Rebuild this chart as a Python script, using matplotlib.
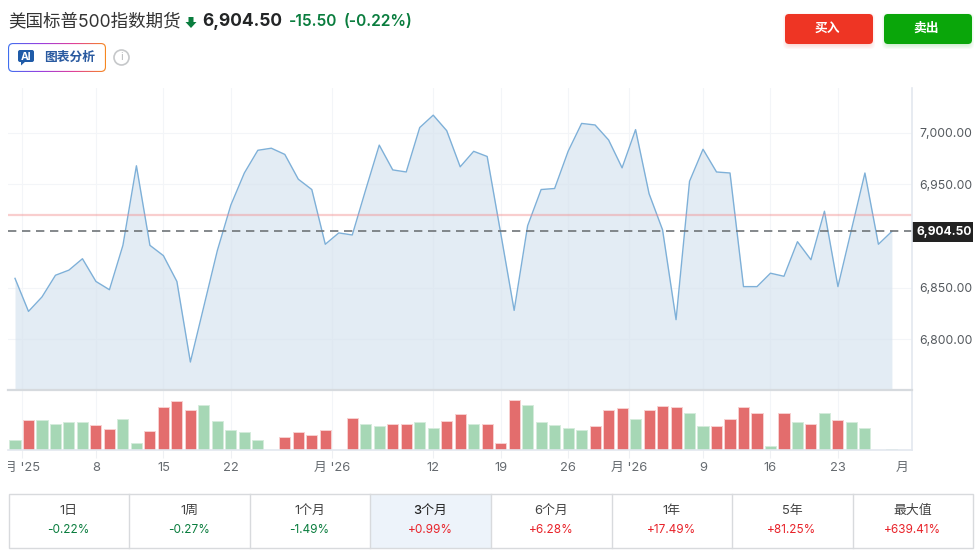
# -*- coding: utf-8 -*-
import matplotlib
matplotlib.use('Agg')
import matplotlib.pyplot as plt
import numpy as np
from matplotlib.colors import LinearSegmentedColormap
from matplotlib.patches import Circle, FancyBboxPatch, Polygon, Rectangle
from matplotlib.transforms import Bbox

plt.rcParams['font.family'] = ['Inter', 'Noto Sans CJK SC', 'DejaVu Sans']

# price per session
prices = [6859, 6827, 6841, 6862, 6867, 6878, 6856, 6848, 6891, 6968, 6891,
          6881, 6856, 6778, 6832, 6886, 6930, 6961, 6983, 6985, 6979, 6955,
          6945, 6892, 6903, 6901, 6945, 6988, 6964, 6962, 7005, 7017, 7002,
          6967, 6982, 6977, 6903, 6828, 6910, 6945, 6946, 6982, 7009, 7007.5,
          6993, 6966, 7003, 6941, 6906, 6819, 6953, 6984, 6962, 6961, 6851,
          6851, 6864, 6861, 6894.5, 6877, 6924, 6851, 6906, 6961, 6892, 6904.5]
volumes = [29, 89, 89, 79, 83, 83, 76, 63, 92, 20, 56, 129, 146, 119, 135, 86,
           60, 53, 29, 0, 39, 53, 46, 60, 0, 96, 79, 72, 79, 79, 83, 66, 86,
           109, 79, 79, 20, 149, 135, 83, 76, 66, 60, 72, 119, 126, 92, 119,
           132, 129, 112, 72, 72, 92, 129, 112, 13, 112, 83, 79, 112, 89, 83,
           66, 0, 3]
vol_up = list('GRGGGGRRGGRRRRGGGGG' 'GRRRRG' 'RGGRRGGRRGRRRGGGGGRRRGRRRGGRRRRGRGRGRGGGG')
date_pos = [0.52, 6, 11, 16, 23.5, 31, 36, 41, 45.5, 51, 56, 61, 65.75]
date_labels = ["月 '25", '8', '15', '22', "月 '26", '12', '19', '26', "月 '26",
               '9', '16', '23', '月']
price_ticks = [6800, 6850, 6950, 7000]
last_price = 6904.5
prev_close = 6920
periods = ['1日', '1周', '1个月', '3个月', '6个月', '1年', '5年', '最大值']
changes = ['-0.22%', '-0.27%', '-1.49%', '+0.99%', '+6.28%', '+17.49%',
           '+81.25%', '+639.41%']
period_edges = [8.5, 128.5, 249.5, 369.5, 490.5, 611.5, 731.5, 852.5, 973]

W, H = 980, 552
UP_TXT = '#0a7d3e'
DOWN_TXT = '#e8232a'


def px_axes(x0, y0, x1, y1):
    return fig.add_axes([x0 / W, 1 - y1 / H, (x1 - x0) / W, (y1 - y0) / H])


fig = plt.figure(figsize=(W / 100, H / 100), dpi=100, facecolor='white')
x = np.arange(len(prices))
xlim = (-0.519, 66.49)

# price pane
ax = px_axes(8, 88, 912, 389.5)
ax.set_facecolor('none')
ax.set_xlim(*xlim)
ax.set_ylim(6751.4, 7043.3)
ax.fill_between(x, prices, 6700, color='#d6e3ef', alpha=0.68, lw=0, zorder=2)
ax.plot(x, prices, color='#7eb0d8', lw=1.0, zorder=3)
ax.axhline(prev_close, color='#f28b8b', lw=1.6, alpha=0.42, zorder=4)
ax.axhline(last_price, color='#6f7478', lw=1.2, dashes=(5, 3.4), zorder=5)
ax.set_xticks(date_pos[:-1])
ax.set_yticks(price_ticks)
ax.set_yticklabels([f'{v:,.2f}' for v in price_ticks], fontsize=8.8, color='#555a5f')
ax.yaxis.tick_right()
ax.tick_params(axis='x', length=0, labelbottom=False)
ax.tick_params(axis='y', length=0, pad=5)
ax.grid(True, color='#f3f5f8', lw=0.8, zorder=1)
ax.set_axisbelow(True)
for s in ax.spines.values():
    s.set_visible(False)

# volume pane
vax = px_axes(8, 390, 912, 450)
vax.set_facecolor('none')
vax.set_xlim(*xlim)
vax.set_ylim(0, 180)
bar_cols = ['#e36d6d' if c == 'R' else '#a6d7b5' for c in vol_up]
edge_cols = ['#f8d0d0' if c == 'R' else '#d5ecdc' for c in vol_up]
vax.bar(x, volumes, width=0.82, color=bar_cols, edgecolor=edge_cols, lw=0.7, zorder=3)
vax.set_yticks([])
vax.set_xticks(date_pos)
vax.set_xticklabels(date_labels, fontsize=9.3, color='#666b70')
vax.tick_params(axis='x', length=5.5, width=0.8, color='#eef0f3', pad=3)
vax.grid(True, axis='x', color='#f3f5f8', lw=0.8, zorder=1)
vax.set_axisbelow(True)
for s in vax.spines.values():
    s.set_visible(False)
# last label has no grid line or tick
vax.xaxis.get_major_ticks()[-1].gridline.set_visible(False)
vax.xaxis.get_major_ticks()[-1].tick1line.set_visible(False)
# the first date label is cut off by the chart's left edge
first = vax.get_xticklabels()[0]
first.set_clip_on(True)
first.set_clip_box(Bbox([[8, 0], [W, H]]))

# everything else sits on an overlay in pixel coordinates
ov = fig.add_axes([0, 0, 1, 1], zorder=10)
ov.set_xlim(0, W)
ov.set_ylim(H, 0)
ov.axis('off')
ov.patch.set_alpha(0)

ov.plot([912, 912], [88, 450], color='#e3e8ef', lw=1.2)
ov.plot([8, 912], [389.5, 389.5], color='#d6dade', lw=1.6)
ov.plot([8, 912], [450.3, 450.3], color='#e3e8ef', lw=1.2)

# current price tag
ov.add_patch(Rectangle((912, 222), 61, 20, color='#222222', lw=0))
ov.text(944, 232.5, f'{last_price:,.2f}', color='white', fontsize=8.7,
        fontweight='bold', ha='center', va='center')

# header
ov.text(8, 22, '美国标普500指数期货', fontsize=12.6, color='#333333', va='center')
ov.add_patch(Polygon([[188.5, 17], [193.5, 17], [193.5, 22], [196.5, 22],
                      [191, 28], [185.5, 22], [188.5, 22]], color='#0a7d3e', lw=0))
ov.text(202, 22, f'{last_price:,.2f}', fontsize=12.5, fontweight='bold',
        color='#232526', va='center')
ov.text(289, 22, '-15.50', fontsize=11.2, fontweight='semibold', color=UP_TXT, va='center')
ov.text(344, 22, '(-0.22%)', fontsize=11.2, fontweight='semibold', color=UP_TXT, va='center')

# AI button, gradient border
cmap = LinearSegmentedColormap.from_list('ai', ['#3f6ff0', '#9a3fe0', '#e0409a', '#f78a1d'])
grad = np.linspace(0, 1, 200).reshape(1, -1)
img = ov.imshow(grad, extent=(8, 106, 72, 43), cmap=cmap, aspect='auto', zorder=2)
clip = FancyBboxPatch((11, 46), 92, 23, boxstyle='round,pad=3,rounding_size=5',
                      transform=ov.transData, fc='none', ec='none')
ov.add_patch(clip)
img.set_clip_path(clip)
ov.set_xlim(0, W)
ov.set_ylim(H, 0)
ov.add_patch(FancyBboxPatch((12, 47), 90, 21, boxstyle='round,pad=2.9,rounding_size=4',
                            fc='white', ec='none', zorder=3))
ov.add_patch(FancyBboxPatch((19, 51), 14, 10, boxstyle='round,pad=1,rounding_size=2',
                            fc='#1f5ba8', ec='none', zorder=4))
ov.add_patch(Polygon([[21, 61], [26, 61], [21, 65.5]], color='#1f5ba8', lw=0, zorder=4))
ov.text(26, 56.5, 'AI', fontsize=7.5, fontweight='bold', color='white', ha='center',
        va='center', zorder=5)
ov.text(44, 57.5, '图表分析', fontsize=9.2, fontweight='bold', color='#2a5aa0',
        va='center', zorder=4)
ov.add_patch(Circle((121.5, 57.5), 7.5, fc='white', ec='#c6c8ca', lw=1.2))
ov.text(121.5, 57.5, 'i', fontsize=8, color='#b8babc', ha='center', va='center')

# buy / sell
for bx, col, lab in [(785, '#ee3524', '买入'), (884, '#0aa60a', '卖出')]:
    for k in range(6, 0, -1):
        ov.add_patch(FancyBboxPatch((bx + 4 - k, 19 - k), 80 + 2 * k, 24 + 2 * k,
                                    boxstyle='round,pad=0,rounding_size=5', fc=col,
                                    ec='none', alpha=0.035))
    ov.add_patch(FancyBboxPatch((bx + 3, 17), 82, 24, boxstyle='round,pad=3,rounding_size=4',
                                fc=col, ec='none'))
    ov.text(bx + 42.5, 29, lab, fontsize=9.2, fontweight='bold', color='white',
            ha='center', va='center')

# performance table
ov.add_patch(Rectangle((period_edges[3], 493.5), period_edges[4] - period_edges[3], 54,
                       fc='#edf3fa', ec='none'))
ov.add_patch(Rectangle((8.5, 493.5), 964.5, 54, fc='none', ec='#d8dadd', lw=1.0))
for e in period_edges[1:-1]:
    ov.plot([e, e], [493.5, 547.5], color='#d8dadd', lw=1.0)
for i, (p, c) in enumerate(zip(periods, changes)):
    cx = (period_edges[i] + period_edges[i + 1]) / 2
    ov.text(cx, 511, p, fontsize=9.3, color='#222222' if i == 3 else '#444444',
            fontweight='medium' if i == 3 else 'normal', ha='center', va='center')
    ov.text(cx, 530, c, fontsize=8.5, color=UP_TXT if c[0] == '-' else DOWN_TXT,
            ha='center', va='center')

fig.savefig('out.png', dpi=100)
